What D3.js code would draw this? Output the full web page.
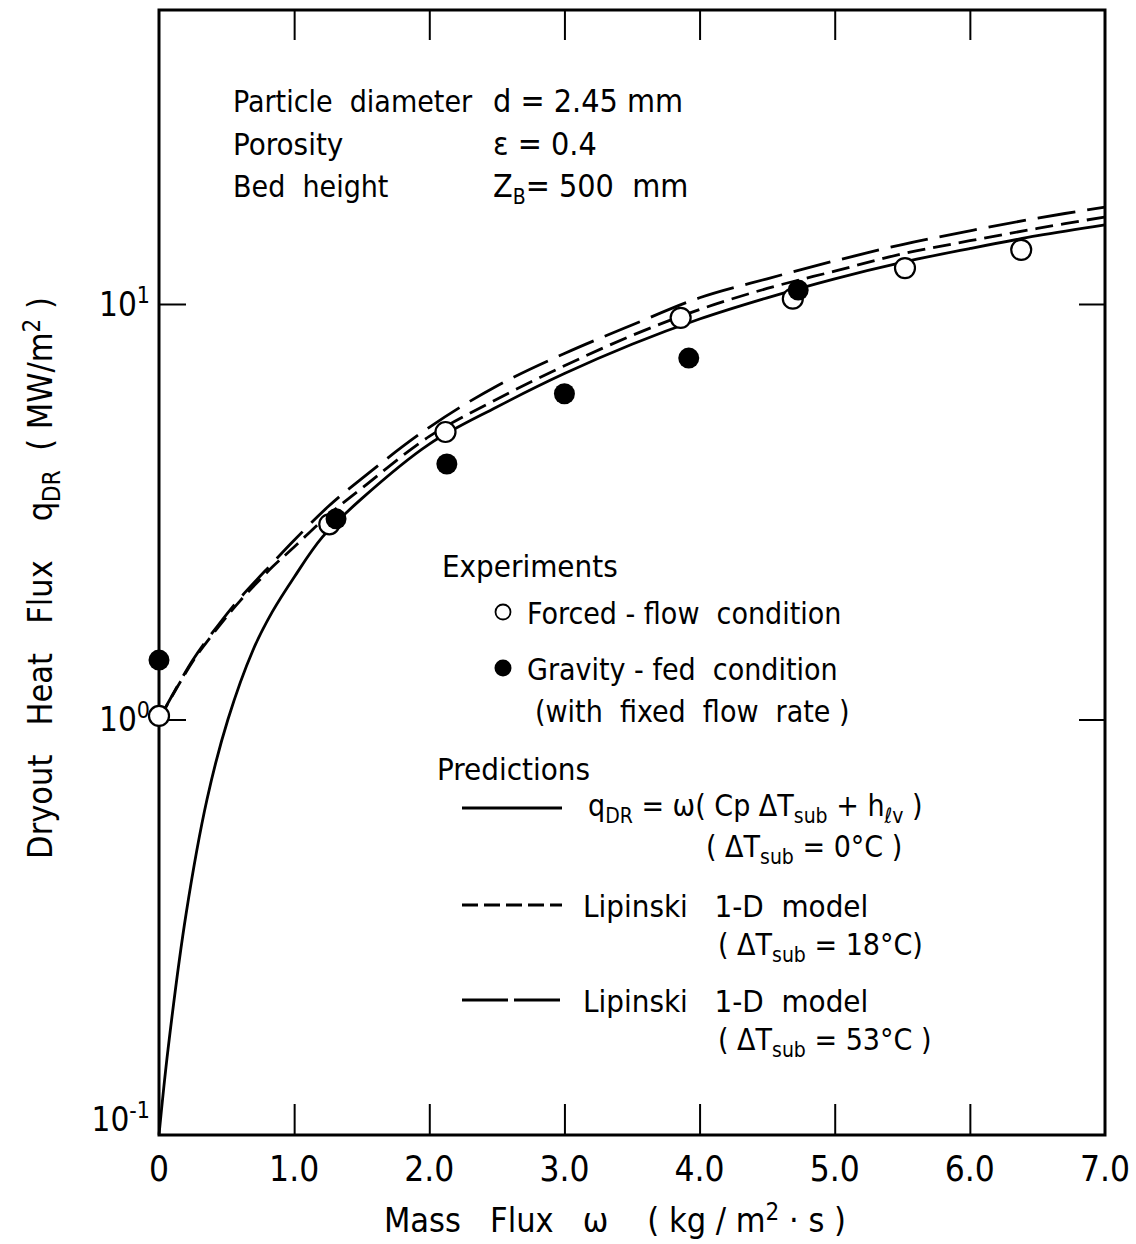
<!DOCTYPE html>
<html>
<head>
<meta charset="utf-8">
<script src="https://cdn.jsdelivr.net/npm/d3@7"></script>
<style>
  body { margin: 0; background: #fff; }
  text { font-family: "Liberation Sans Narrow", "DejaVu Sans Condensed", sans-serif; fill: #000; white-space: pre; }
</style>
</head>
<body>
<div id="chart"></div>
<script>
'use strict'
// chart size
const width = 1136
const height = 1244

// experiments
const omegaForced = [0, 1.26, 2.12, 3.86, 4.69, 5.52, 6.38]
const qForced = [1.02, 2.95, 4.92, 9.26, 10.3, 12.2, 13.5]
const omegaGravity = [0, 1.31, 2.13, 3.0, 3.92, 4.73]
const qGravity = [1.39, 3.04, 4.12, 6.08, 7.41, 10.8]

// predictions
const omegaSolid = [0, 0.067, 0.2, 0.355, 0.51, 0.696, 0.836, 1.0, 1.21, 1.5, 2.0, 2.5, 3.0, 3.5, 4.0, 4.5, 5.0, 5.5, 6.0, 6.5, 7.0]
const qSolid = [0.1, 0.161, 0.34, 0.642, 1.0, 1.47, 1.81, 2.2, 2.75, 3.4, 4.6, 5.65, 6.8, 8.0, 9.2, 10.35, 11.5, 12.6, 13.6, 14.6, 15.5]
const omegaLip = [0, 0.25, 0.44, 0.6, 0.84, 1.0, 1.25, 1.5, 2.0, 2.5, 3.0, 3.5, 4.0, 4.5, 5.0, 5.5, 6.0, 6.5, 7.0]
const qLip18 = [1.0, 1.38, 1.67, 1.93, 2.33, 2.6, 3.1, 3.6, 4.8, 5.9, 7.1, 8.4, 9.7, 10.9, 12.0, 13.2, 14.2, 15.2, 16.2]
const qLip53 = [1.0, 1.39, 1.69, 1.96, 2.38, 2.7, 3.25, 3.8, 5.05, 6.35, 7.6, 8.9, 10.35, 11.5, 12.7, 13.9, 15.0, 16.1, 17.1]

// ticks
const xTicks = [0, 1, 2, 3, 4, 5, 6, 7]
const xTickLabels = ["0", "1.0", "2.0", "3.0", "4.0", "5.0", "6.0", "7.0"]
const yTicks = [0.1, 1, 10]
const yTickExp = ["-1", "0", "1"]

const svg = d3.select("#chart").append("svg")
  .attr("width", width)
  .attr("height", height)

const x = d3.scaleLinear().domain([0, 7]).range([159, 1105])
const y = d3.scaleLog().domain([0.1, 51]).range([1135, 10])

const plotL = x.range()[0], plotR = x.range()[1]
const plotB = y.range()[0], plotT = y.range()[1]

// axes: inward ticks
const inner = xTicks.slice(1, -1)
svg.append("g")
  .attr("transform", "translate(0," + plotB + ")")
  .call(d3.axisBottom(x).tickValues(inner).tickSize(-31).tickFormat(""))
svg.append("g")
  .attr("transform", "translate(0," + plotT + ")")
  .call(d3.axisTop(x).tickValues(inner).tickSize(-30).tickFormat(""))
svg.append("g")
  .attr("transform", "translate(" + plotL + ",0)")
  .call(d3.axisLeft(y).tickValues([1, 10]).tickSize(-27).tickFormat(""))
svg.append("g")
  .attr("transform", "translate(" + plotR + ",0)")
  .call(d3.axisRight(y).tickValues([1, 10]).tickSize(-26).tickFormat(""))
svg.selectAll(".domain").remove()
svg.selectAll(".tick line").attr("stroke", "#000").attr("stroke-width", 2)

// frame
svg.append("rect")
  .attr("x", plotL).attr("y", plotT)
  .attr("width", plotR - plotL).attr("height", plotB - plotT)
  .attr("fill", "none").attr("stroke", "#000").attr("stroke-width", 3)

// x tick labels
svg.selectAll(".xlab")
  .data(xTicks)
  .enter().append("text")
  .attr("class", "xlab")
  .attr("x", d => x(d))
  .attr("y", plotB + 46)
  .attr("text-anchor", "middle")
  .style("font-size", "35px")
  .text((d, i) => xTickLabels[i])

// y tick labels 10^n
yTicks.forEach(function (v, i) {
  let yy = y(v) + (i == 0 ? -4 : 12)
  let t = svg.append("text")
    .attr("x", 150)
    .attr("y", yy)
    .attr("text-anchor", "end")
    .style("font-size", "33px")
  t.append("tspan").text("10")
  t.append("tspan").attr("dy", -13).style("font-size", "23px").text(yTickExp[i])
})

// axis titles
let xt = svg.append("text")
  .attr("x", 615).attr("y", 1232)
  .attr("text-anchor", "middle")
  .style("font-size", "34px")
xt.append("tspan").text("Mass   Flux   ω    ( kg / m")
xt.append("tspan").attr("dy", -12).style("font-size", "24px").text("2")
xt.append("tspan").attr("dy", 12).text(" · s )")

let yt = svg.append("text")
  .attr("transform", "translate(52,578)rotate(-90)")
  .attr("text-anchor", "middle")
  .style("font-size", "34px")
yt.append("tspan").text("Dryout   Heat   Flux    q")
yt.append("tspan").attr("dy", 8).style("font-size", "24px").text("DR")
yt.append("tspan").attr("dy", -8).text("  ( MW/m")
yt.append("tspan").attr("dy", -12).style("font-size", "24px").text("2")
yt.append("tspan").attr("dy", 12).text(" )")

// curves
const line = d3.line()
  .x(d => x(d[0]))
  .y(d => y(d[1]))
  .curve(d3.curveCatmullRom.alpha(0.5))

const curves = [
  { w: omegaSolid, q: qSolid, dash: null },
  { w: omegaLip, q: qLip18, dash: "18,8" },
  { w: omegaLip, q: qLip53, dash: "38,12" }
]
curves.forEach(function (c) {
  svg.append("path")
    .datum(d3.zip(c.w, c.q))
    .attr("d", line)
    .attr("fill", "none")
    .attr("stroke", "#000")
    .attr("stroke-width", 2.8)
    .attr("stroke-dasharray", c.dash)
})

// data points
svg.selectAll(".forced")
  .data(d3.zip(omegaForced, qForced))
  .enter().append("circle")
  .attr("class", "forced")
  .attr("cx", d => x(d[0]))
  .attr("cy", d => y(d[1]))
  .attr("r", 10)
  .attr("fill", "#fff")
  .attr("stroke", "#000")
  .attr("stroke-width", 2.2)

svg.selectAll(".gravity")
  .data(d3.zip(omegaGravity, qGravity))
  .enter().append("circle")
  .attr("class", "gravity")
  .attr("cx", d => x(d[0]))
  .attr("cy", d => y(d[1]))
  .attr("r", 10.5)
  .attr("fill", "#000")

// text with sub/superscript parts
function addText(tx, ty, parts, size) {
  let t = svg.append("text").attr("x", tx).attr("y", ty).style("font-size", (size || 31) + "px")
  parts.forEach(function (p) {
    let s = t.append("tspan").text(p.t)
    if (p.sub) s.attr("dy", 7).style("font-size", "21px")
    if (p.back) s.attr("dy", p.back)
  })
  return t
}

// parameter block
addText(233, 112, [{ t: "Particle  diameter" }], 30)
addText(493, 112, [{ t: "d = 2.45 mm" }], 32)
addText(233, 155, [{ t: "Porosity" }])
addText(493, 155, [{ t: "ε = 0.4" }], 32)
addText(233, 197, [{ t: "Bed  height" }], 30)
addText(493, 197, [{ t: "Z" }, { t: "B", sub: true }, { t: "= 500  mm", back: -7 }], 32)

// legend
addText(442, 577, [{ t: "Experiments" }])
svg.append("circle").attr("cx", 503).attr("cy", 612).attr("r", 7.5)
  .attr("fill", "#fff").attr("stroke", "#000").attr("stroke-width", 1.8)
addText(527, 624, [{ t: "Forced - flow  condition" }], 30)
svg.append("circle").attr("cx", 503).attr("cy", 668).attr("r", 8.5).attr("fill", "#000")
addText(527, 680, [{ t: "Gravity - fed  condition" }], 30)
addText(535, 722, [{ t: "(with  fixed  flow  rate )" }], 30)

addText(437, 780, [{ t: "Predictions" }])
const legendLines = [
  { y: 808, dash: null },
  { y: 905, dash: "16,6" },
  { y: 1000, dash: "46,6" }
]
legendLines.forEach(function (l) {
  svg.append("line")
    .attr("x1", 462).attr("x2", 562)
    .attr("y1", l.y).attr("y2", l.y)
    .attr("stroke", "#000").attr("stroke-width", 2.8)
    .attr("stroke-dasharray", l.dash)
})
addText(588, 816, [{ t: "q" }, { t: "DR", sub: true }, { t: " = ω( Cp ΔT", back: -7 }, { t: "sub", sub: true }, { t: " + h", back: -7 }, { t: "ℓv", sub: true }, { t: " )", back: -7 }], 30)
addText(706, 857, [{ t: "( ΔT" }, { t: "sub", sub: true }, { t: " = 0°C )", back: -7 }], 30)
addText(583, 917, [{ t: "Lipinski   1-D  model" }])
addText(718, 955, [{ t: "( ΔT" }, { t: "sub", sub: true }, { t: " = 18°C)", back: -7 }], 30)
addText(583, 1012, [{ t: "Lipinski   1-D  model" }])
addText(718, 1050, [{ t: "( ΔT" }, { t: "sub", sub: true }, { t: " = 53°C )", back: -7 }], 30)
</script>
</body>
</html>
